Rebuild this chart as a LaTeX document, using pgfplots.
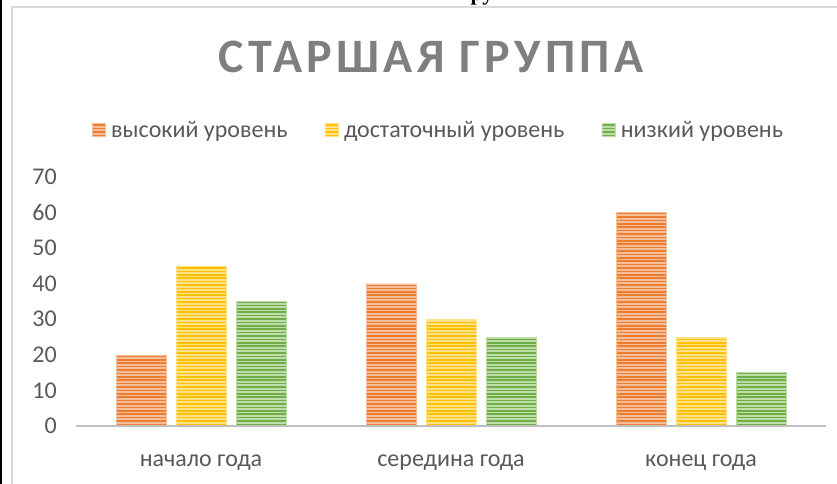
\documentclass[border=0pt]{standalone}
\usepackage{fontspec}
\setmainfont{Carlito}
\newfontfamily\titlefont[LetterSpace=9]{Carlito}
\newfontfamily\docfont{Liberation Serif}
\usepackage{pgfplots}
\pgfplotsset{compat=1.18}
\usetikzlibrary{patterns}
\pgfdeclarepatternformonly{hstripes}{\pgfpoint{-1pt}{-0.5pt}}{\pgfpoint{41pt}{3.9pt}}{\pgfpoint{40pt}{3.4pt}}{%
  \pgfpathrectangle{\pgfpoint{-1pt}{0pt}}{\pgfpoint{42pt}{1.7pt}}\pgfusepath{fill}}
\definecolor{txt}{HTML}{595959}
\definecolor{ttl}{HTML}{7F7F7F}
\definecolor{orC}{HTML}{ED7D31}
\definecolor{orL}{HTML}{F6BE98}
\definecolor{yeC}{HTML}{FFC000}
\definecolor{yeL}{HTML}{FFE28A}
\definecolor{grC}{HTML}{70AD47}
\definecolor{grL}{HTML}{BCDCA8}
\begin{document}
\begin{tikzpicture}[x=1pt,y=1pt]
\useasboundingbox (0,0) rectangle (837,483);
\fill[white] (0,0) rectangle (837,483);
\draw[black, line width=2pt] (1,-5) -- (1,490);
\draw[gray!30, line width=2pt] (12,-10) -- (12,476) -- (850,476);
\node[font=\docfont\bfseries\fontsize{22}{24}\selectfont, anchor=base] at (482,482) {ру};
\node[font=\titlefont\bfseries\fontsize{48}{50}\selectfont, text=ttl] at (431,426) {СТАРШАЯ ГРУППА};
\begin{axis}[
  at={(76pt,57pt)}, anchor=south west,
  scale only axis, width=750pt, height=249pt,
  xmin=-0.5, xmax=2.5, ymin=0, ymax=70,
  ybar=10pt, bar width=50pt,
  axis line style={draw=none},
  major tick length=0pt,
  xtick={0,1,2},
  xticklabels={начало года, середина года, конец года},
  ytick={0,10,...,70},
  /pgf/number format/assume math mode=true,
  tick label style={font=\fontsize{24}{28}\selectfont, text=txt},
  yticklabel style={anchor=east, inner sep=0pt, xshift=-19pt},
  xticklabel style={anchor=base, inner sep=0pt, yshift=-40pt},
  legend columns=3,
  legend style={at={(0.021,1.189)}, anchor=west, draw=none, fill=none,
    inner sep=0pt, outer sep=0pt,
    font=\fontsize{24}{28}\selectfont, text=txt,
    nodes={inner sep=0pt},
    /tikz/every odd column/.append style={column sep=6pt},
    /tikz/every even column/.append style={column sep=37pt}},
  legend image code/.code={\draw[#1] (0pt,-6.5pt) rectangle (13pt,6.5pt);},
  clip=false,
]
\addplot[fill=orL, draw=orL, postaction={pattern=hstripes, pattern color=orC}]
  coordinates {(0,20) (1,40) (2,60)};
\addplot[fill=yeL, draw=yeL, postaction={pattern=hstripes, pattern color=yeC}]
  coordinates {(0,45) (1,30) (2,25)};
\addplot[fill=grL, draw=grL, postaction={pattern=hstripes, pattern color=grC}]
  coordinates {(0,35) (1,25) (2,15)};
\legend{высокий уровень, достаточный уровень, низкий уровень}
\draw[color=black!25, line width=2.5pt] (axis cs:-0.5,0) -- (axis cs:2.5,0);
\end{axis}
\end{tikzpicture}
\end{document}
